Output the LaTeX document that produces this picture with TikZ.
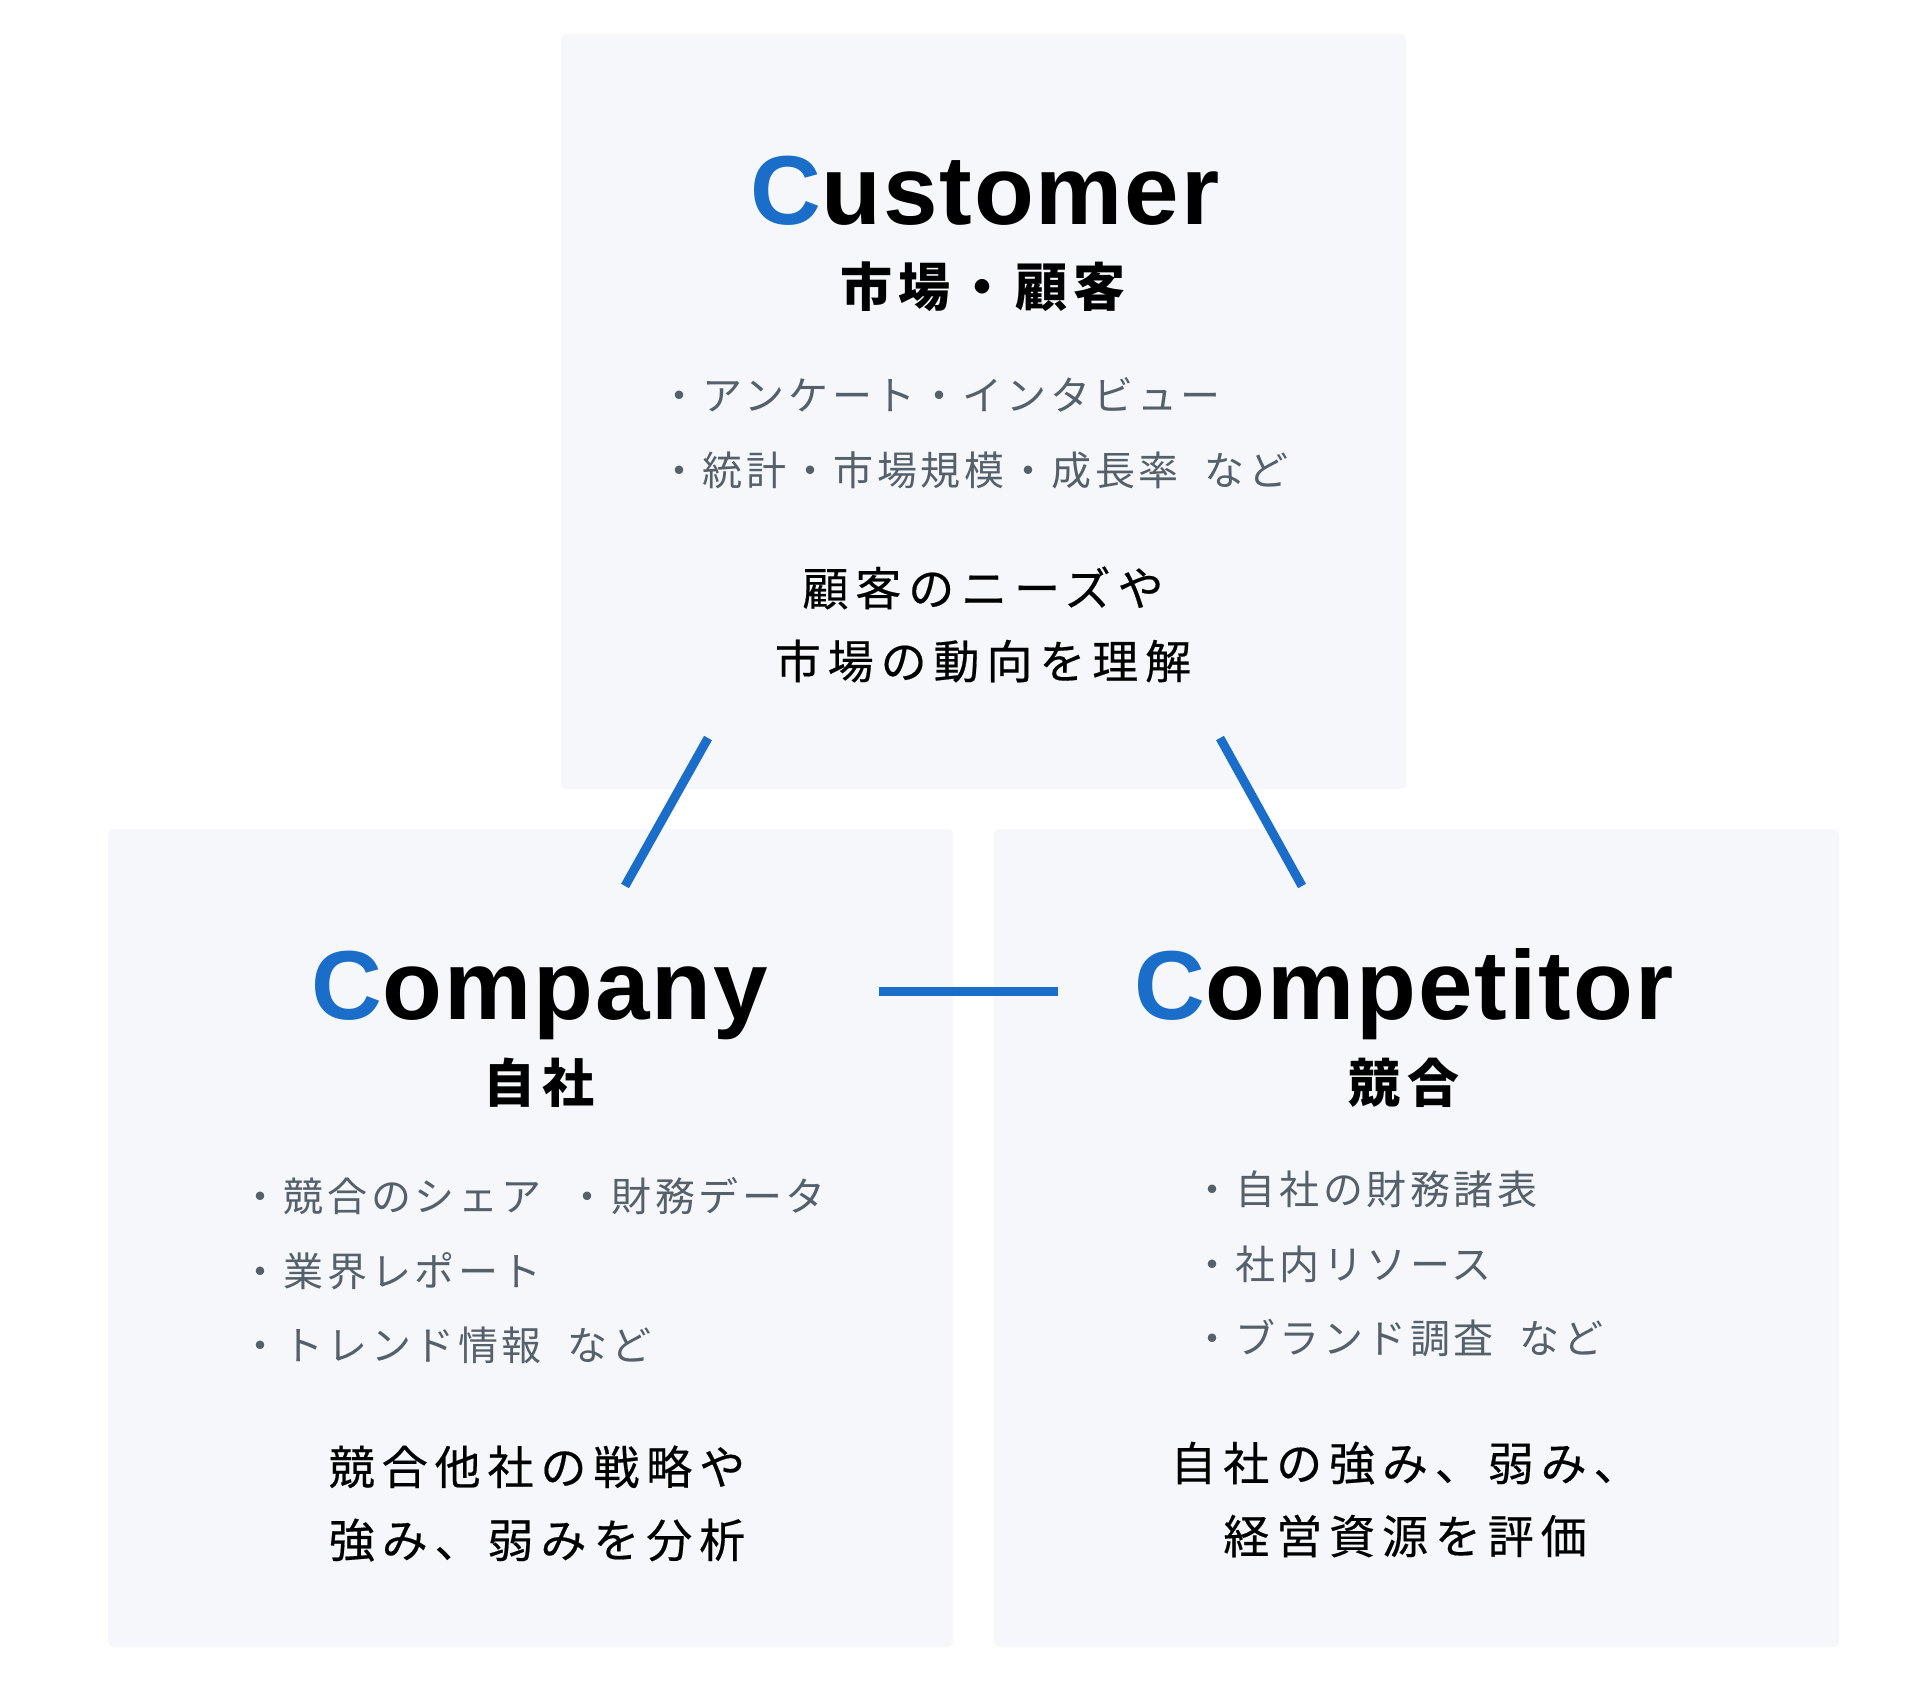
\documentclass[tikz,border=0pt]{standalone}
\usepackage{fontspec}
\setmainfont{Noto Sans CJK JP}
\newfontfamily\titlefont[LetterSpace=2]{Liberation Sans}
\newfontfamily\jph[LetterSpace=12]{Noto Sans CJK JP}
\newfontfamily\jpl[LetterSpace=9]{Noto Sans CJK JP}
\newfontfamily\jpd[LetterSpace=15,FakeBold=0.4]{Noto Sans CJK JP}
\definecolor{cblue}{HTML}{1A6DC8}
\definecolor{cardbg}{HTML}{F5F7FB}
\definecolor{itemgray}{HTML}{56606A}
\newcommand{\gapsp}{\hspace{13pt}}
\begin{document}
\begin{tikzpicture}[x=0.5pt,y=-0.5pt,
  card/.style={fill=cardbg, rounded corners=3pt, inner sep=0, minimum width=422.5pt},
  link/.style={draw=cblue, line width=4.5pt},
  ttl/.style={font=\titlefont\bfseries\fontsize{49pt}{58pt}\selectfont, anchor=base, inner sep=0},
  sub/.style={font=\jph\bfseries\fontsize{26pt}{30pt}\selectfont, inner sep=0},
  item/.style={font=\jpl\fontsize{20pt}{24pt}\selectfont, text=itemgray, anchor=west, inner sep=0},
  desc/.style={font=\jpd\fontsize{23pt}{36.5pt}\selectfont, align=center, inner sep=0}
]
\useasboundingbox (0,0) rectangle (1920,1680);
\fill[white] (0,0) rectangle (1920,1680);
% cards
\node (cust) [card, minimum height=377.5pt] at (983.5,411.5) {};
\node (comp) [card, minimum height=409pt] at (530.5,1238) {};
\node (compt) [card, minimum height=409pt] at (1416.5,1238) {};
% connectors
\coordinate (l1a) at (708,738);
\coordinate (l1b) at (625,886);
\coordinate (l2a) at (1220,738);
\coordinate (l2b) at (1302,886);
\coordinate (l3a) at (879,991);
\coordinate (l3b) at (1058,991);
\draw[link] (l1a) -- (l1b);
\draw[link] (l2a) -- (l2b);
\draw[link] (l3a) -- (l3b);
% Customer
\node (t1) [ttl] at (985,225) {{\color{cblue}C}ustomer};
\node (s1) [sub] at (983,287) {市場・顧客};
\node (i11) [item] at (659,395) {・アンケート・インタビュー};
\node (i12) [item] at (659,470) {・統計・市場規模・成長率\gapsp など};
\node (d1) [desc] at (983,624.5) {顧客のニーズや\\市場の動向を理解};
% Company
\node (t2) [ttl] at (540,1019) {{\color{cblue}C}ompany};
\node (s2) [sub] at (539,1083) {自社};
\node (i21) [item] at (240,1196) {・競合のシェア\gapsp ・財務データ};
\node (i22) [item] at (240,1271) {・業界レポート};
\node (i23) [item] at (240,1345) {・トレンド情報\gapsp など};
\node (d2) [desc] at (537,1503.5) {競合他社の戦略や\\強み、弱みを分析};
% Competitor
\node (t3) [ttl] at (1404,1019) {{\color{cblue}C}ompetitor};
\node (s3) [sub] at (1404,1083) {競合};
\node (i31) [item] at (1192,1189) {・自社の財務諸表};
\node (i32) [item] at (1192,1264) {・社内リソース};
\node (i33) [item] at (1192,1338) {・ブランド調査\gapsp など};
\node (d3) [desc] at (1405,1499.5) {自社の強み、弱み、\\経営資源を評価};
\end{tikzpicture}
\end{document}
